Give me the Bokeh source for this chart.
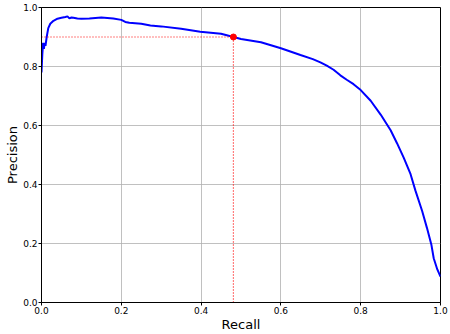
from bokeh.plotting import figure
from bokeh.embed import file_html
from bokeh.resources import INLINE
from bokeh.models import Range1d, FixedTicker, PrintfTickFormatter

recall = [0.0, 0.002, 0.004, 0.006, 0.008, 0.01, 0.013, 0.017, 0.022, 0.03, 0.04, 0.05, 0.06, 0.065,
          0.07, 0.075, 0.08, 0.09, 0.1, 0.12, 0.15, 0.18, 0.2, 0.21, 0.22, 0.25, 0.273, 0.3, 0.35,
          0.398, 0.45, 0.481, 0.5, 0.55, 0.6, 0.649, 0.68, 0.699, 0.715, 0.732, 0.749, 0.765,
          0.782, 0.8, 0.825, 0.85, 0.875, 0.891, 0.908, 0.925, 0.937, 0.954, 0.966, 0.977, 0.983,
          0.992, 1.0]
precision = [0.78, 0.84, 0.88, 0.86, 0.88, 0.87, 0.9, 0.93, 0.945, 0.955, 0.962, 0.965, 0.968, 0.97,
             0.963, 0.966, 0.965, 0.963, 0.962, 0.963, 0.966, 0.963, 0.958, 0.951, 0.948, 0.945,
             0.939, 0.936, 0.928, 0.918, 0.911, 0.9, 0.893, 0.882, 0.862, 0.839, 0.825, 0.814,
             0.803, 0.789, 0.77, 0.755, 0.74, 0.72, 0.684, 0.637, 0.584, 0.54, 0.49, 0.435, 0.38,
             0.31, 0.253, 0.197, 0.15, 0.112, 0.088]

threshold_recall = 0.481
threshold_precision = 0.9
ticks = [0.0, 0.2, 0.4, 0.6, 0.8, 1.0]

FONT = "DejaVu Sans"

p = figure(width=450, height=334, output_backend="svg", toolbar_location=None,
           x_range=Range1d(0, 1), y_range=Range1d(0, 1),
           min_border_left=41, min_border_right=10, min_border_top=7, min_border_bottom=28)

p.line(recall, precision, line_color="blue", line_width=2)
p.line([0, threshold_recall], [threshold_precision, threshold_precision],
       line_color="red", line_dash="1 2", line_width=1.2)
p.line([threshold_recall, threshold_recall], [0, threshold_precision],
       line_color="red", line_dash="1 2", line_width=1.2)
p.scatter([threshold_recall], [threshold_precision], color="red", size=6)

for ax in (p.xaxis, p.yaxis):
    ax.ticker = FixedTicker(ticks=ticks)
    ax.formatter = PrintfTickFormatter(format="%.1f")
    ax.major_label_text_font = FONT
    ax.major_label_text_font_size = "9px"
    ax.major_label_text_color = "black"
    ax.axis_label_text_font = FONT
    ax.axis_label_text_font_size = "13px"
    ax.axis_label_text_font_style = "normal"
    ax.axis_label_text_color = "black"
    ax.axis_line_color = "black"
    ax.major_tick_line_color = "black"
    ax.major_tick_out = 3
    ax.major_tick_in = 0
    ax.minor_tick_line_color = None
    ax.major_label_standoff = 1
    ax.axis_label_standoff = 0

p.xaxis.axis_label = "Recall"
p.yaxis.axis_label = "Precision"

p.grid.grid_line_color = "#b0b0b0"
p.grid.grid_line_width = 0.8
p.outline_line_color = "black"
p.outline_line_alpha = 1
p.outline_line_width = 1
p.background_fill_color = "white"
p.border_fill_color = "white"

open("out.html", "w").write(file_html(p, INLINE))
